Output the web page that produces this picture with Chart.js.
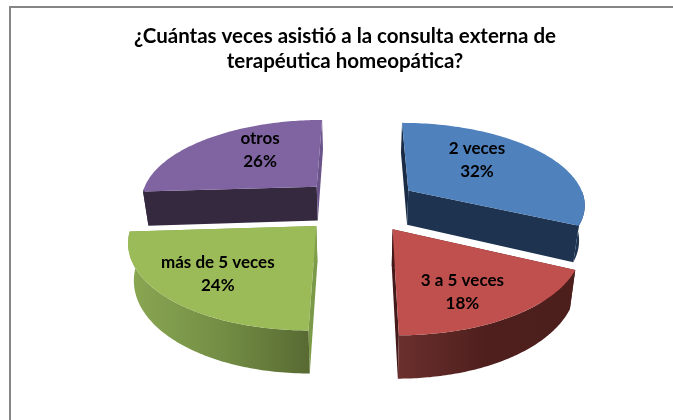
<!DOCTYPE html>
<html><head><meta charset="utf-8">
<style>html,body{margin:0;padding:0;background:#fff}canvas{display:block}</style>
<script src="https://cdn.jsdelivr.net/npm/chart.js@4"></script>
</head><body><canvas id="c" width="673" height="420"></canvas>
<script>
const titleLines = ['¿Cuántas veces asistió a la consulta externa de','terapéutica homeopática?'];
const categories = ['2 veces','3 a 5 veces','más de 5 veces','otros'];
const percents = [32,18,24,26];
const topColors = ['#4f81bd','#c0504d','#9bbb59','#8064a2'];
const wallStops = [['#1d3350','#1d3350'],['#6b302d','#4e1f1d','#4c1e1c'],['#8aa753','#748f45','#586a32'],['#352940','#352940']];
const faceColors = [['#1a2c45','#1d3350'],['#4a1c1b','#43191a'],['#7a9a48','#7f9f4a'],['#352940','#6a5388']];
const paintOrder = [3,0,2,1];
const labelNudge = [[-13,-7],[2,14],[-14,7],[12,-7]];
const view = {cx:359, cy:205, squash:0.46, persp:0.15, depth:35, lowerScale:0.975};

function project(px,py,R,lower){
  const den = 1 - view.persp*py/R;
  const s = lower ? view.lowerScale : 1;
  return [view.cx + s*px/den, view.cy + view.squash*py/den + (lower ? view.depth/den : 0)];
}
function polar(el,theta,rho,lower){
  const mid=(el.startAngle+el.endAngle)/2, o=el.options.offset;
  const px=o*Math.cos(mid)+rho*Math.cos(theta), py=o*Math.sin(mid)+rho*Math.sin(theta);
  return project(px,py,el.outerRadius,lower);
}
function rim(el,lower,frontOnly){
  const pts=[], n=90;
  for(let i=0;i<=n;i++){
    const t=el.startAngle+(el.endAngle-el.startAngle)*i/n;
    if(frontOnly && Math.sin(t)<0) continue;
    pts.push(polar(el,t,el.outerRadius,lower));
  }
  return pts;
}
function fillPoly(ctx,pts,fill){
  ctx.beginPath(); pts.forEach((p,i)=>i?ctx.lineTo(p[0],p[1]):ctx.moveTo(p[0],p[1])); ctx.closePath();
  ctx.fillStyle=fill; ctx.fill();
}
const pie3d = {
  id:'pie3d',
  beforeDraw(chart){
    const ctx=chart.ctx; ctx.save(); ctx.strokeStyle='#868686'; ctx.lineWidth=2;
    ctx.beginPath(); ctx.moveTo(10,420); ctx.lineTo(10,7); ctx.lineTo(673,7); ctx.stroke(); ctx.restore();
  },
  beforeDatasetsDraw(chart){
    const ctx=chart.ctx, arcs=chart.getDatasetMeta(0).data;
    ctx.save();
    paintOrder.forEach(i=>{
      const el=arcs[i], top=rim(el,false,false), bot=rim(el,true,false);
      const apexT=polar(el,0,0,false), apexB=polar(el,0,0,true);
      fillPoly(ctx,[apexT,top[0],bot[0],apexB],faceColors[i][0]);
      fillPoly(ctx,[apexT,top[top.length-1],bot[bot.length-1],apexB],faceColors[i][1]);
      const ft=rim(el,false,true), fb=rim(el,true,true);
      const xs=ft.concat(fb).map(p=>p[0]), x0=Math.min(...xs), x1=Math.max(...xs);
      const g=ctx.createLinearGradient(x0,0,x1,0);
      wallStops[i].forEach((c,k,a)=>g.addColorStop(k/(a.length-1),c));
      fillPoly(ctx,ft.concat(fb.slice().reverse()),g);
      fillPoly(ctx,[apexT].concat(top),el.options.backgroundColor);
    });
    ctx.fillStyle='#000'; ctx.font='bold 17px Lato'; ctx.textAlign='center'; ctx.textBaseline='middle';
    arcs.forEach((el,i)=>{
      const mid=(el.startAngle+el.endAngle)/2, p=polar(el,mid,el.outerRadius*0.6,false);
      const x=p[0]+labelNudge[i][0], y=p[1]+labelNudge[i][1];
      ctx.fillText(categories[i],x,y-11.5);
      ctx.fillText(percents[i]+'%',x,y+11.5);
    });
    ctx.restore();
    return false;
  }
};
new Chart(document.getElementById('c'),{
  type:'pie',
  data:{labels:categories,datasets:[{data:percents,backgroundColor:topColors,borderWidth:0,offset:60,radius:178}]},
  options:{
    responsive:false,animation:false,
    layout:{padding:{left:17,top:24}},
    plugins:{
      legend:{display:false},tooltip:{enabled:false},
      title:{display:true,text:titleLines,color:'#000',font:{family:'Lato',size:20.5,weight:'bold',lineHeight:1.2},padding:0}
    }
  },
  plugins:[pie3d]
});
</script></body></html>
